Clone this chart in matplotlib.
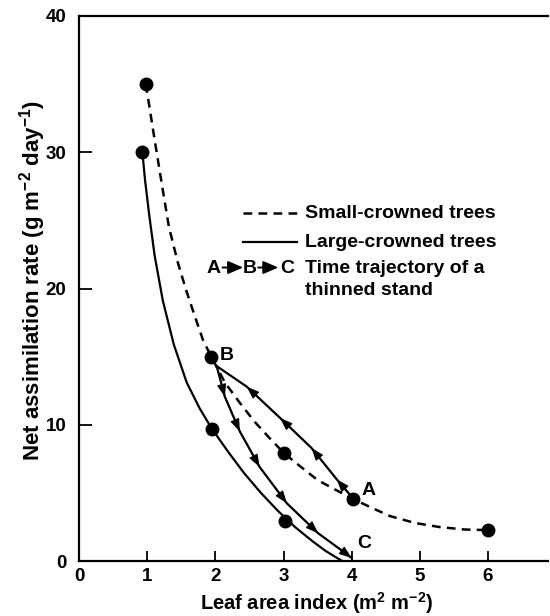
import matplotlib
matplotlib.use('Agg')
import matplotlib.pyplot as plt

plt.rcParams['font.family'] = ['Liberation Sans', 'DejaVu Sans']
plt.rcParams['font.weight'] = 'bold'
plt.rcParams['axes.labelweight'] = 'bold'
plt.rcParams['mathtext.fontset'] = 'custom'
plt.rcParams['mathtext.rm'] = 'Liberation Sans:bold'
plt.rcParams['mathtext.bf'] = 'Liberation Sans:bold'
plt.rcParams['mathtext.it'] = 'Liberation Sans:bold'
plt.rcParams['mathtext.default'] = 'bf'

# marker points
small_x = [0.98, 1.94, 3.01, 4.02, 6.0]
small_y = [35.0, 15.0, 7.9, 4.55, 2.27]
large_x = [0.93, 1.95, 3.02]
large_y = [30.0, 9.7, 2.96]

# curves
small_curve_x = [0.98, 1.11, 1.23, 1.32, 1.45, 1.57, 1.69, 1.82, 1.94, 2.14, 2.36, 2.58,
                 2.80, 3.01, 3.24, 3.50, 3.77, 4.02, 4.30, 4.56, 4.93, 5.29, 5.66, 6.0]
small_curve_y = [35.0, 30.9, 27.2, 24.5, 21.9, 19.9, 18.1, 16.2, 15.0, 13.1, 11.6, 10.2,
                 9.0, 7.9, 6.97, 5.94, 5.21, 4.55, 3.89, 3.30, 2.79, 2.49, 2.31, 2.27]
large_curve_x = [0.93, 0.97, 1.03, 1.11, 1.23, 1.39, 1.58, 1.77, 1.95, 2.19, 2.42, 2.67,
                 2.92, 3.17, 3.42, 3.62, 3.86]
large_curve_y = [30.0, 27.9, 25.4, 22.4, 19.1, 15.9, 13.1, 11.2, 9.7, 8.0, 6.46, 4.99,
                 3.67, 2.49, 1.47, 0.73, 0.0]

# trajectory A -> B -> C
ab_x = [4.02, 3.78, 3.41, 2.95, 2.46, 2.02]
ab_y = [4.6, 6.0, 8.3, 10.5, 12.8, 14.3]
bc_x = [2.02, 2.14, 2.36, 2.65, 3.05, 3.51, 3.88, 4.0]
bc_y = [14.3, 12.05, 9.5, 6.9, 4.23, 2.03, 0.68, 0.22]
ab_arrows = [1, 2, 3, 4]        # points on the path that carry an arrowhead
bc_arrows = [1, 2, 3, 4, 5, 7]

fig = plt.figure(figsize=(5.5, 6.16), dpi=100)
ax = fig.add_axes([79/550, 55/616, 469/550, 545/616])

ax.plot(small_curve_x, small_curve_y, color='black', lw=1.8, dashes=(3.5, 2.5))
ax.plot(large_curve_x, large_curve_y, color='black', lw=1.6)
ax.plot(small_x, small_y, 'o', color='black', ms=9)
ax.plot(large_x, large_y, 'o', color='black', ms=9)

ax.plot(ab_x, ab_y, color='black', lw=1.6)
ax.plot(bc_x, bc_y, color='black', lw=1.6)

def head(xs, ys, i):
    ax.annotate('', xy=(xs[i], ys[i]), xytext=(xs[i-1], ys[i-1]),
                arrowprops=dict(arrowstyle='-|>,head_length=0.6,head_width=0.22',
                                color='black', lw=0.8, shrinkA=0, shrinkB=0,
                                mutation_scale=13))

for i in ab_arrows:
    head(ab_x, ab_y, i)
for i in bc_arrows:
    head(bc_x, bc_y, i)

fs = 14
ax.text(2.07, 15.1, 'B', fontsize=fs, va='center', ha='left')
ax.text(4.15, 5.2, 'A', fontsize=fs, va='center', ha='left')
ax.text(4.08, 1.3, 'C', fontsize=fs, va='center', ha='left')

# legend, drawn by hand
T = ax.transAxes
ax.plot([0.350, 0.465], [0.6385, 0.6385], transform=T, color='black', lw=1.8, dashes=(3.5, 2.5))
ax.plot([0.350, 0.465], [0.585, 0.585], transform=T, color='black', lw=1.6)
ax.text(0.482, 0.6385, 'Small-crowned trees', transform=T, fontsize=fs, va='center')
ax.text(0.482, 0.585, 'Large-crowned trees', transform=T, fontsize=fs, va='center')
ax.text(0.482, 0.5376, 'Time trajectory of a', transform=T, fontsize=fs, va='center')
ax.text(0.482, 0.497, 'thinned stand', transform=T, fontsize=fs, va='center')
ax.text(0.288, 0.5376, 'A', transform=T, fontsize=fs, va='center', ha='center')
ax.text(0.365, 0.5376, 'B', transform=T, fontsize=fs, va='center', ha='center')
ax.text(0.445, 0.5376, 'C', transform=T, fontsize=fs, va='center', ha='center')
for x0, x1 in [(0.306, 0.350), (0.382, 0.425)]:
    ax.annotate('', xy=(x1, 0.5385), xytext=(x0, 0.5385), xycoords=T, textcoords=T,
                arrowprops=dict(arrowstyle='-|>,head_length=0.7,head_width=0.3',
                                color='black', lw=1.4, shrinkA=0, shrinkB=0, mutation_scale=13))

ax.set_xlim(0, 6.88)
ax.set_ylim(0, 40)
ax.set_xticks([0, 1, 2, 3, 4, 5, 6])
ax.set_yticks([0, 10, 20, 30, 40])
ax.spines['right'].set_visible(False)
for s in ['left', 'bottom', 'top']:
    ax.spines[s].set_linewidth(1.6)
ax.tick_params(axis='x', direction='in', length=7, width=1.3, labelsize=13.5, pad=5)
ax.tick_params(axis='y', direction='in', length=9, width=1.3, labelsize=13.5, pad=9)
ax.set_xlabel(r'Leaf area index (m$^2$ m$^{-2}$)', fontsize=14.5, va='center')
ax.set_ylabel(r'Net assimilation rate (g m$^{-2}$ day$^{-1}$)', fontsize=16, va='center')
ax.xaxis.set_label_coords(0.507, -0.077)
ax.yaxis.set_label_coords(-0.100, 0.514)

fig.savefig('out.png', dpi=100)
